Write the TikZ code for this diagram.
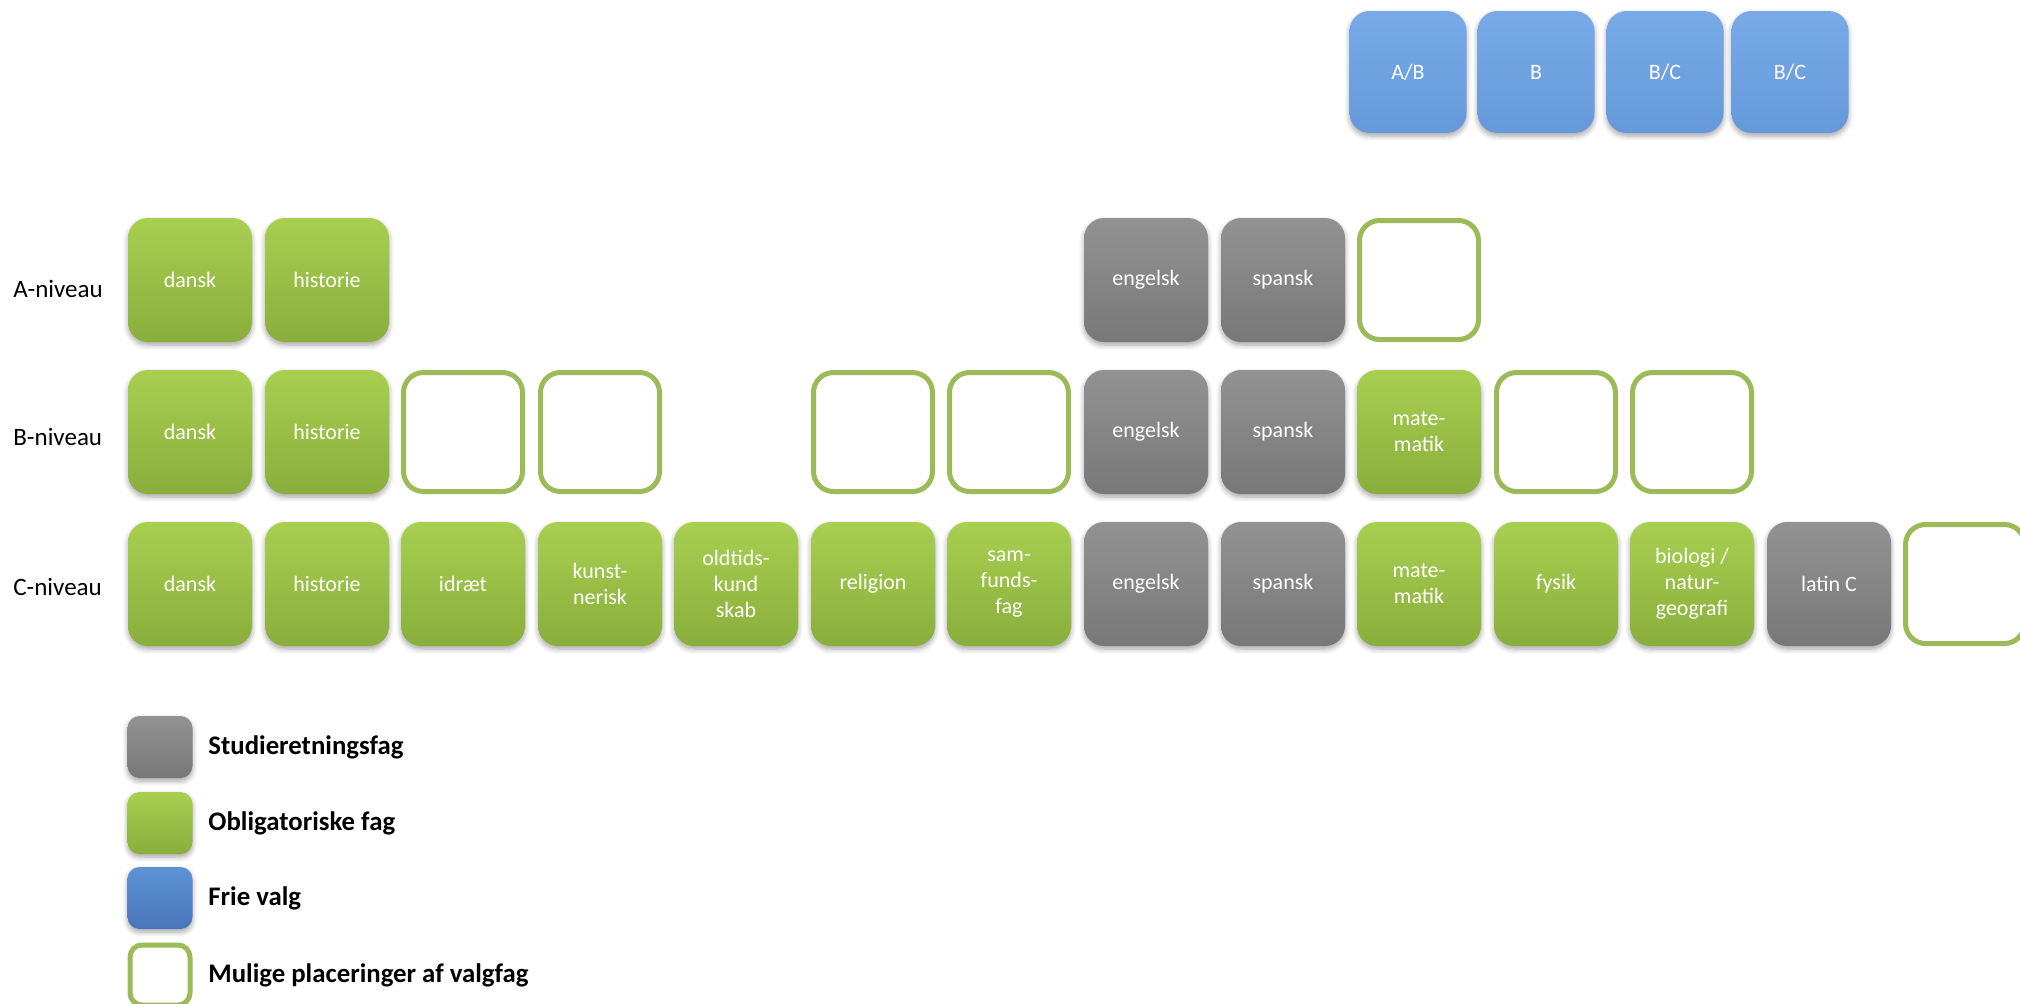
\documentclass[tikz,border=0pt]{standalone}
\usepackage{fontspec}
\setmainfont{Carlito}
\usetikzlibrary{shadows.blur}
\definecolor{gtop}{HTML}{A8CF50}
\definecolor{gbot}{HTML}{8AAE3C}
\definecolor{ktop}{HTML}{929292}
\definecolor{kbot}{HTML}{787878}
\definecolor{btop}{HTML}{78AAE8}
\definecolor{bbot}{HTML}{6699DB}
\definecolor{ltop}{HTML}{5E92D6}
\definecolor{lbot}{HTML}{4876BA}
\definecolor{oline}{HTML}{9BBB59}
\tikzset{
  tile/.style={rounded corners=10pt, minimum width=62pt, minimum height=62pt,
    text=white, font=\fontsize{11}{13}\selectfont, align=center, inner sep=1pt,
    blur shadow={shadow blur steps=6, shadow xshift=0pt, shadow yshift=-1.5pt, shadow blur radius=2.5pt, shadow opacity=35}},
  obl/.style={tile, top color=gtop, bottom color=gbot},
  stud/.style={tile, top color=ktop, bottom color=kbot},
  fri/.style={tile, top color=btop, bottom color=bbot, minimum width=58.5pt, minimum height=61pt},
  valg/.style={rounded corners=10pt, minimum width=59.5pt, minimum height=59.5pt, draw=oline, line width=2.5pt, fill=white},
  lvl/.style={anchor=west, font=\fontsize{12.5}{14}\selectfont, inner sep=0pt},
  legbox/.style={rounded corners=6pt, minimum width=32.5pt, minimum height=31pt, inner sep=0pt,
    blur shadow={shadow blur steps=6, shadow xshift=0pt, shadow yshift=-1.5pt, shadow blur radius=2.5pt, shadow opacity=35}},
  legtext/.style={anchor=west, font=\bfseries\fontsize{13.4}{15}\selectfont, inner sep=0pt}
}
\begin{document}
\begin{tikzpicture}[x=0.5pt,y=-0.5pt]
\useasboundingbox (0,0) rectangle (2020,1003);
% free choices
\node[fri] (f1) at (1408,72) {A/B};
\node[fri] (f2) at (1536,72) {B};
\node[fri] (f3) at (1665,72) {B/C};
\node[fri] (f4) at (1790,72) {B/C};
% level labels
\node[lvl] (la) at (13,289) {A-niveau};
\node[lvl] (lb) at (13,437) {B-niveau};
\node[lvl] (lc) at (13,587) {C-niveau};
% A row
\node[obl] (a1) at (190,280) {dansk};
\node[obl] (a2) at (327,280) {historie};
\node[stud] (a8) at (1146,280) {engelsk};
\node[stud] (a9) at (1283,280) {spansk};
\node[valg] (a10) at (1419,280) {};
% B row
\node[obl] (b1) at (190,432) {dansk};
\node[obl] (b2) at (327,432) {historie};
\node[valg] (b3) at (463,432) {};
\node[valg] (b4) at (600,432) {};
\node[valg] (b6) at (873,432) {};
\node[valg] (b7) at (1009,432) {};
\node[stud] (b8) at (1146,432) {engelsk};
\node[stud] (b9) at (1283,432) {spansk};
\node[obl] (b10) at (1419,432) {mate-\\matik};
\node[valg] (b11) at (1556,432) {};
\node[valg] (b12) at (1692,432) {};
% C row
\node[obl] (c1) at (190,584) {dansk};
\node[obl] (c2) at (327,584) {historie};
\node[obl] (c3) at (463,584) {idræt};
\node[obl] (c4) at (600,584) {kunst-\\nerisk};
\node[obl] (c5) at (736,584) {oldtids-\\kund\\skab};
\node[obl] (c6) at (873,584) {religion};
\node[obl] (c7) at (1009,584) {sam-\\funds-\\fag};
\node[stud] (c8) at (1146,584) {engelsk};
\node[stud] (c9) at (1283,584) {spansk};
\node[obl] (c10) at (1419,584) {mate-\\matik};
\node[obl] (c11) at (1556,584) {fysik};
\node[obl] (c12) at (1692,584) {biologi /\\natur-\\geografi};
\node[stud] (c13) at (1829,584) {latin C};
\node[valg] (c14) at (1965,584) {};
% legend
\node[legbox, top color=ktop, bottom color=kbot] (g1) at (160,747) {};
\node[legtext] (t1) at (208,747) {Studieretningsfag};
\node[legbox, top color=gtop, bottom color=gbot] (g2) at (160,823) {};
\node[legtext] (t2) at (208,823) {Obligatoriske fag};
\node[legbox, top color=ltop, bottom color=lbot] (g3) at (160,898) {};
\node[legtext] (t3) at (208,898) {Frie valg};
\node[legbox, draw=oline, line width=2.5pt, fill=white, blur shadow={shadow opacity=0}, minimum width=30pt, minimum height=30pt] (g4) at (160,975) {};
\node[legtext] (t4) at (208,975) {Mulige placeringer af valgfag};
\end{tikzpicture}
\end{document}
